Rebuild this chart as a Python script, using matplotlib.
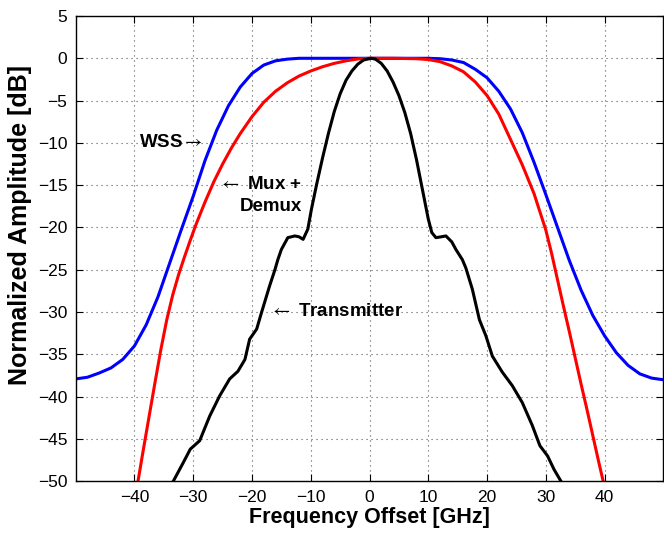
import numpy as np
import matplotlib.pyplot as plt

plt.rcParams['font.family'] = ['Liberation Sans', 'DejaVu Sans']
plt.rcParams['mathtext.fontset'] = 'stixsans'

# WSS filter response
wss_f = [-50, -48, -46, -44, -42, -40, -38, -36, -34, -32,
         -30, -28, -26, -24, -22, -20, -18, -16, -14, -12,
         0, 10, 12, 14, 16, 18, 20, 22, 24, 26,
         28, 30, 32, 34, 36, 38, 40, 42, 44, 46,
         48, 50]
wss_db = [-37.9, -37.7, -37.2, -36.6, -35.6, -34.0, -31.5, -28.2, -24.2, -20.2,
          -16.3, -12.1, -8.5, -5.6, -3.4, -1.8, -0.8, -0.3, -0.1, 0,
          0, 0, -0.05, -0.2, -0.5, -1.3, -2.3, -3.9, -6.0, -8.8,
          -12.3, -16.1, -20.0, -23.9, -27.4, -30.4, -32.8, -34.8, -36.3, -37.3,
          -37.8, -38.0]

# Mux + Demux response
mux_f = [-39.4, -38.5, -37.5, -36.5, -35.5, -34.5, -33.5, -32.5, -31.5, -30.5,
         -29.5, -28, -26.5, -25, -23.5, -22, -20, -18, -16, -14,
         -12, -10, -8, -6, -4, -2, 0, 4, 8, 10,
         12, 14, 16, 18, 20, 22, 24, 26, 28, 30,
         31, 32, 33, 34, 35, 36, 37, 38, 39, 39.8]
mux_db = [-50, -46.3, -42.3, -38.3, -34.4, -30.9, -28.0, -25.6, -23.5, -21.5,
          -19.6, -17.0, -14.6, -12.5, -10.6, -8.9, -6.9, -5.2, -3.9, -2.9,
          -2.1, -1.5, -1.0, -0.6, -0.3, -0.08, 0, 0, -0.05, -0.15,
          -0.4, -0.9, -1.6, -2.8, -4.4, -6.6, -9.6, -12.6, -16.0, -20.3,
          -23.1, -26.2, -29.3, -32.3, -35.4, -38.5, -41.5, -44.6, -47.7, -50.1]

# transmitter spectrum
tx_f = [-33.4, -31.7, -30.5, -28.9, -27.2, -25.5, -23.8, -22.4, -21.2, -20.4,
        -19.2, -18.4, -17.0, -16.1, -15.6, -15.0, -13.9, -12.7, -12.0, -11.3,
        -10.5, -9.9, -9.0, -8.0, -7.0, -6.0, -5.0, -4.0, -3.0, -2.0,
        -1.0, 0.3, 1.0, 2.0, 3.0, 4.0, 5.0, 6.0, 7.0, 8.0,
        9.0, 10.0, 10.6, 11.3, 12.2, 13.0, 14.0, 14.7, 15.8, 16.4,
        17.5, 18.7, 19.8, 20.9, 22.6, 24.3, 26.0, 27.7, 29.0, 30.3,
        31.4, 32.5]
tx_db = [-50, -47.8, -46.2, -45.2, -42.3, -39.9, -37.9, -37.0, -35.6, -33.2,
         -32.0, -30.1, -26.9, -25.0, -23.8, -22.6, -21.2, -21.0, -21.1, -21.4,
         -20.2, -17.9, -14.9, -11.8, -8.9, -6.3, -4.2, -2.6, -1.5, -0.7,
         -0.2, 0, -0.1, -0.6, -1.5, -2.8, -4.4, -6.4, -8.9, -12.0,
         -15.5, -19.0, -20.6, -21.2, -21.1, -21.0, -21.7, -22.6, -23.8, -24.8,
         -27.3, -30.9, -32.8, -35.2, -37.1, -38.7, -40.7, -43.4, -45.8, -47.0,
         -48.6, -49.9]

xticks = np.arange(-40, 41, 10)
yticks = np.arange(-50, 6, 5)

fig = plt.figure(figsize=(6.64, 5.33), dpi=100)
ax = fig.add_axes([0.114, 0.097, 0.885, 0.873])

ax.plot(wss_f, wss_db, color='#0000ff', lw=2.2, solid_joinstyle='round')
ax.plot(mux_f, mux_db, color='#ff0000', lw=2.2, solid_joinstyle='round')
ax.plot(tx_f, tx_db, color='black', lw=2.2, solid_joinstyle='round')

ax.set_xlim(-50, 50)
ax.set_ylim(-50, 5)
ax.set_xticks(xticks)
ax.set_yticks(yticks)
ax.tick_params(direction='in', top=True, right=True, length=5,
               labelsize=12.5, pad=6)
ax.grid(True, linestyle=(0, (1, 3.5)), color='#555555', linewidth=0.8)
for s in ax.spines.values():
    s.set_linewidth(1.0)

ax.set_xlabel('Frequency Offset [GHz]', fontsize=15.5, fontweight='bold', labelpad=2)
ax.set_ylabel('Normalized Amplitude [dB]', fontsize=18, fontweight='bold')
ax.yaxis.set_label_coords(-0.075, 0.55)

ax.text(-39.2, -10, r'WSS$\rightarrow$', fontsize=13.5, fontweight='bold',
        ha='left', va='center')
ax.text(-11.5, -16.2, '$\\leftarrow$ Mux +\nDemux', fontsize=13.5, fontweight='bold',
        ha='right', va='center', multialignment='right', linespacing=1.4)
ax.text(-17.0, -29.9, r'$\leftarrow$ Transmitter', fontsize=13.5, fontweight='bold',
        ha='left', va='center')

fig.savefig('out.png', dpi=100)
